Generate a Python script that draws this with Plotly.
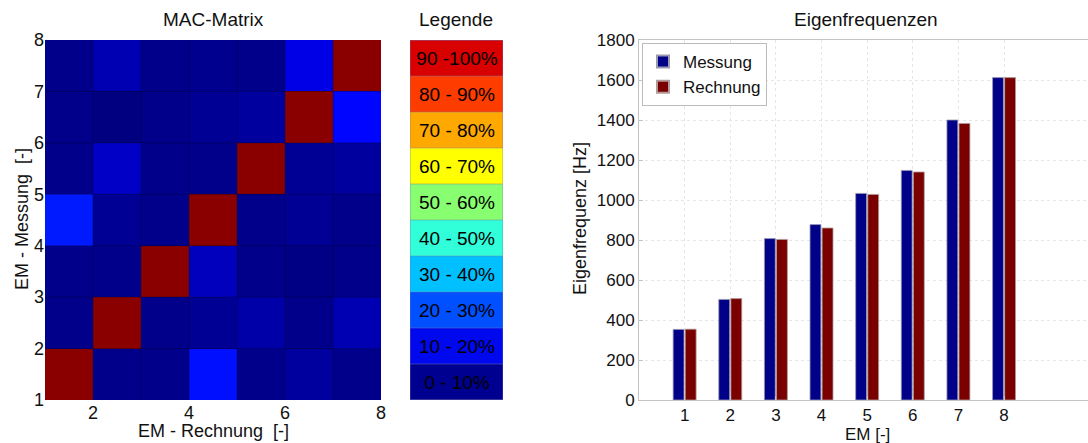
import plotly.graph_objects as go

FONT = "Arial, 'Liberation Sans', Helvetica, sans-serif"

# ---- MAC matrix (percent); rows = measured mode 1..7 (bottom to top),
# columns = computed mode 1..7 (left to right); cell edges at mode numbers
mac_rows = [
    [99, 1, 1, 14, 1, 3, 1],
    [1, 99, 1, 2, 4, 1, 5],
    [1, 1, 99, 6, 1, 0.5, 1],
    [15, 2, 1, 99, 1, 2, 1],
    [1, 7, 1, 1, 99, 2, 3],
    [1, 0, 1, 2, 3, 99, 13],
    [1, 5, 1, 1.5, 1, 10, 99],
]
mode_edges = [1, 2, 3, 4, 5, 6, 7, 8]
mac_xticks = [2, 4, 6, 8]
mac_yticks = [1, 2, 3, 4, 5, 6, 7, 8]

# ---- colour key for the MAC classes
legend_labels = ["0 - 10%", "10 - 20%", "20 - 30%", "30 - 40%", "40 - 50%",
                 "50 - 60%", "60 - 70%", "70 - 80%", "80 - 90%", "90 -100%"]
legend_mid = [5, 15, 25, 35, 45, 55, 65, 75, 85, 95]
legend_colors = ["#000090", "#0008EE", "#0050FF", "#00C0FF", "#30FFDA",
                 "#88FF70", "#FFFF00", "#FFA800", "#FF3C00", "#D80000"]

# ---- natural frequencies
modes = [1, 2, 3, 4, 5, 6, 7, 8]
f_messung = [353, 503, 807, 877, 1033, 1148, 1400, 1612]
f_rechnung = [354, 507, 803, 860, 1028, 1140, 1383, 1612]
freq_ticks = [0, 200, 400, 600, 800, 1000, 1200, 1400, 1600, 1800]

W, H = 1088, 443


def px(x):
    return x / W


def py(y):
    return 1 - y / H


jet = [[0.0, "#000080"], [0.125, "#0000FF"], [0.375, "#00FFFF"],
       [0.625, "#FFFF00"], [0.875, "#FF0000"], [1.0, "#800000"]]

# discrete colour scale for the key
key_scale = []
n = len(legend_colors)
for i, c in enumerate(legend_colors):
    key_scale.append([i / n, c])
    key_scale.append([(i + 1) / n, c])

fig = go.Figure()

fig.add_trace(go.Heatmap(
    z=mac_rows, x=mode_edges, y=mode_edges,
    colorscale=jet, zmin=0, zmax=100, showscale=False,
    xaxis="x", yaxis="y", hoverinfo="z",
))

key_edges = list(range(len(legend_mid) + 1))
fig.add_trace(go.Heatmap(
    z=[[v] for v in legend_mid], x=[0, 1], y=key_edges,
    text=[[t] for t in legend_labels], texttemplate="%{text}",
    textfont=dict(family=FONT, size=19, color="black"),
    colorscale=key_scale, zmin=0, zmax=100, showscale=False,
    xaxis="x2", yaxis="y2", hoverinfo="text",
))

fig.add_trace(go.Bar(
    x=modes, y=f_messung, name="Messung", marker_color="#000088",
    marker_line=dict(color="#9a9ab0", width=0.8),
    xaxis="x3", yaxis="y3",
))
fig.add_trace(go.Bar(
    x=modes, y=f_rechnung, name="Rechnung", marker_color="#7A0000",
    marker_line=dict(color="#b09a9a", width=0.8),
    xaxis="x3", yaxis="y3",
))

# thin cell borders on the MAC matrix
shapes = []
for e in mode_edges[1:-1]:
    shapes.append(dict(type="line", xref="x", yref="y", x0=e, x1=e,
                       y0=mode_edges[0], y1=mode_edges[-1],
                       line=dict(color="rgba(0,0,40,0.35)", width=1), layer="above"))
    shapes.append(dict(type="line", xref="x", yref="y", y0=e, y1=e,
                       x0=mode_edges[0], x1=mode_edges[-1],
                       line=dict(color="rgba(0,0,40,0.35)", width=1), layer="above"))
# thin separators in the colour key
for e in key_edges:
    shapes.append(dict(type="line", xref="x2", yref="y2", x0=0, x1=1, y0=e, y1=e,
                       line=dict(color="rgba(120,120,160,0.45)", width=1), layer="above"))
shapes.append(dict(type="rect", xref="x2", yref="y2", x0=0, x1=1,
                   y0=key_edges[0], y1=key_edges[-1],
                   line=dict(color="rgba(120,120,170,0.6)", width=1), layer="above"))

ydom = [py(400), py(40)]
tick_font = dict(family=FONT, size=18, color="#111")
title_font = dict(family=FONT, size=19, color="#111")
label_font = dict(family=FONT, size=18, color="#111")


def note(text, x, y, font, angle=0):
    return dict(text=text, x=px(x), y=py(y), xref="paper", yref="paper",
                xanchor="center", yanchor="middle", showarrow=False,
                textangle=angle, font=font)


annotations = [
    note("MAC-Matrix", 213, 20, title_font),
    note("Legende", 456, 20, title_font),
    note("Eigenfrequenzen", 866, 20, title_font),
    note("EM - Rechnung  [-]", 213, 431, label_font),
    note("EM - Messung  [-]", 22, 219, label_font, -90),
    note("EM [-]", 867, 434, dict(family=FONT, size=17, color="#111")),
    note("Eigenfrequenz [Hz]", 580, 219, label_font, -90),
]

fig.update_layout(
    width=W, height=H, margin=dict(l=0, r=0, t=0, b=0, autoexpand=False),
    paper_bgcolor="white", plot_bgcolor="white",
    font=dict(family=FONT, color="#111"),
    barmode="group", bargap=0.47, bargroupgap=0.1,
    shapes=shapes, annotations=annotations,
    xaxis=dict(domain=[px(45), px(381)], range=[1, 8], tickvals=mac_xticks,
               showgrid=False, zeroline=False, showline=False, ticks="",
               tickfont=tick_font, anchor="y", automargin=False,
               ticklabelstandoff=0),
    yaxis=dict(domain=ydom, range=[1, 8], tickvals=mac_yticks,
               showgrid=False, zeroline=False, showline=False, ticks="",
               tickfont=tick_font, anchor="x", automargin=False,
               ticklabelstandoff=0),
    xaxis2=dict(domain=[px(410), px(503)], range=[0, 1], visible=False,
                anchor="y2", automargin=False),
    yaxis2=dict(domain=ydom, range=[0, len(legend_mid)], visible=False,
                anchor="x2", automargin=False),
    xaxis3=dict(domain=[px(639), 1.0], range=[0, 9.84], tickvals=modes,
                showgrid=True, gridcolor="#e6e6e6", griddash="dot",
                zeroline=False, showline=True, linecolor="#c4c4c4", mirror=True,
                ticks="inside", ticklen=4, tickcolor="#c4c4c4",
                tickfont=dict(family=FONT, size=17, color="#111"), anchor="y3",
                automargin=False, ticklabelstandoff=0),
    yaxis3=dict(domain=ydom, range=[0, 1800], tickvals=freq_ticks,
                showgrid=True, gridcolor="#e6e6e6", griddash="dot",
                zeroline=False, showline=True, linecolor="#c4c4c4", mirror=True,
                ticks="inside", ticklen=4, tickcolor="#c4c4c4",
                tickfont=dict(family=FONT, size=17, color="#111"), anchor="x3",
                automargin=False),
    legend=dict(x=px(642), y=py(43), xanchor="left", yanchor="top",
                bgcolor="white", bordercolor="#bbbbbb", borderwidth=1,
                font=dict(family=FONT, size=17, color="#111"),
                tracegroupgap=0, itemsizing="constant", itemwidth=30),
)

fig.write_html("out.html")
